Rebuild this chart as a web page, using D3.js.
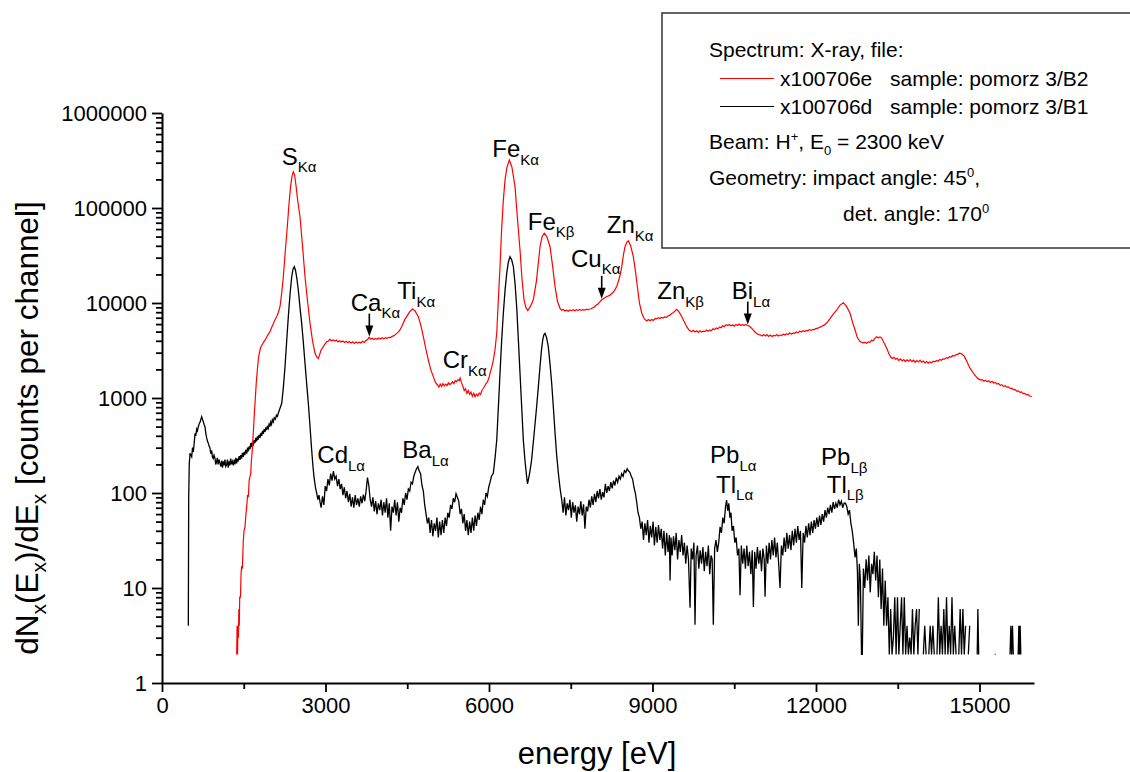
<!DOCTYPE html>
<html>
<head>
<meta charset="utf-8">
<script src="https://cdn.jsdelivr.net/npm/d3@7"></script>
<style>
  html, body { margin: 0; padding: 0; background: #fff; }
  svg { display: block; font-family: "Liberation Sans", Arial, sans-serif; }
</style>
</head>
<body>
<svg id="chart" width="1130" height="772"></svg>
<script>
// PIXE spectra: [energy (eV), counts per channel]; 0 = empty channel (not drawn on log axis)
const spectrumB2 = [
  [1370,2],[1378,4],[1386,2],[1394,4],[1402,3],[1410,6],[1418,4],[1426,8],[1440,8],[1450,14],[1462,17],[1475,16],
  [1490,30],[1505,40],[1523,44],[1540,60],[1555,72],[1570,95],[1584,91],[1600,137],[1615,150],[1628,160],[1640,220],
  [1652,262],[1664,333],[1680,480],[1695,700],[1707,880],[1728,1400],[1749,1970],[1772,2700],[1798,3200],[1820,3500],
  [1845,3700],[1868,3900],[1890,4070],[1915,4300],[1940,4600],[1962,4800],[1982,4990],[2010,5500],[2040,6000],
  [2070,6600],[2105,7180],[2135,8000],[2165,9140],[2195,12500],[2226,18900],[2262,35000],[2299,63500],[2330,110000],
  [2360,170000],[2385,215000],[2409,241000],[2432,225000],[2460,170000],[2490,120000],[2532,81000],[2578,40000],
  [2624,18900],[2670,10500],[2716,6110],[2762,4000],[2808,2950],[2840,2700],[2868,2600],[2895,2900],[2920,3200],
  [2960,3470],[2990,3700],[3020,3900],[3050,3950],[3080,4150],[3110,3980],[3140,4100],[3170,3950],[3200,4080],
  [3230,3900],[3260,4000],[3290,3880],[3320,3980],[3350,3850],[3380,3960],[3410,3820],[3440,3930],[3470,3800],
  [3500,3900],[3530,3760],[3560,3880],[3590,3780],[3620,3870],[3650,3800],[3680,3950],[3710,3850],[3740,4020],
  [3770,4100],[3800,4350],[3830,4150],[3860,4250],[3890,4120],[3920,4230],[3950,4150],[3980,4280],[4010,4180],
  [4040,4300],[4070,4200],[4100,4320],[4130,4250],[4160,4350],[4190,4330],[4220,4450],[4250,4500],[4290,4700],
  [4330,4900],[4367,5200],[4420,6000],[4460,6800],[4490,7180],[4540,8000],[4593,8650],[4640,8300],[4703,7180],
  [4750,5800],[4795,4420],[4840,3300],[4887,2510],[4930,2000],[4978,1680],[5005,1520],[5030,1420],[5055,1380],
  [5080,1300],[5105,1400],[5130,1320],[5155,1420],[5180,1340],[5205,1400],[5230,1350],[5255,1440],[5280,1380],
  [5305,1420],[5330,1480],[5355,1420],[5380,1520],[5405,1480],[5430,1560],[5455,1520],[5470,1620],[5495,1450],
  [5520,1330],[5545,1200],[5570,1250],[5595,1120],[5620,1200],[5645,1090],[5670,1150],[5695,1040],[5720,1120],
  [5745,1030],[5770,1100],[5795,1050],[5820,1130],[5845,1090],[5870,1200],[5895,1260],[5920,1330],[5945,1420],
  [5970,1480],[5995,1600],[6019,1820],[6049,2100],[6079,2510],[6110,3200],[6142,4830],[6172,11000],[6202,24100],
  [6232,60000],[6263,121000],[6295,200000],[6330,270000],[6373,320000],[6420,270000],[6450,210000],[6478,167000],
  [6520,80000],[6569,36100],[6605,18000],[6643,10800],[6675,9000],[6711,8300],[6760,9200],[6813,10800],[6870,17000],
  [6936,39100],[6975,50000],[7015,54100],[7060,50000],[7120,39100],[7165,25000],[7212,14900],[7255,10500],[7303,8790],
  [7335,8400],[7365,8550],[7395,8250],[7425,8400],[7455,8200],[7485,8450],[7515,8300],[7545,8500],[7575,8300],
  [7605,8500],[7635,8350],[7665,8550],[7695,8350],[7725,8500],[7755,8400],[7785,8600],[7815,8450],[7845,8650],
  [7875,8700],[7905,8900],[7935,9100],[7965,9450],[7995,9700],[8030,10200],[8068,10800],[8140,11500],[8221,12100],
  [8290,13200],[8344,14900],[8400,19000],[8436,24100],[8466,32000],[8496,39100],[8527,43500],[8557,45300],[8600,40000],
  [8648,30700],[8690,21000],[8722,14900],[8760,10000],[8803,7800],[8850,6800],[8894,6470],[8925,6700],[8955,6500],
  [8985,6700],[9015,6550],[9045,6850],[9075,6800],[9105,7000],[9135,6850],[9165,7050],[9195,6950],[9225,7150],
  [9255,7050],[9285,7300],[9315,7400],[9345,7700],[9380,7900],[9445,8590],[9490,8000],[9537,7180],[9580,6400],
  [9628,5630],[9670,5200],[9720,4990],[9750,5150],[9780,4950],[9810,5100],[9840,4900],[9870,5100],[9900,4950],
  [9930,5050],[9960,5000],[9990,5200],[10020,5050],[10050,5200],[10080,5100],[10110,5350],[10140,5250],[10170,5450],
  [10200,5350],[10230,5600],[10260,5500],[10290,5750],[10320,5650],[10350,5900],[10380,5800],[10410,5950],[10440,5750],
  [10470,5900],[10500,5700],[10530,5950],[10560,5800],[10590,6000],[10620,5800],[10650,5950],[10680,5800],[10710,5950],
  [10740,5800],[10770,5750],[10800,5550],[10830,5350],[10860,5100],[10890,4900],[10920,4750],[10950,4650],[10980,4600],
  [11010,4500],[11040,4650],[11070,4500],[11100,4650],[11130,4450],[11160,4600],[11190,4450],[11220,4550],[11250,4500],
  [11280,4650],[11310,4500],[11340,4600],[11370,4550],[11400,4700],[11430,4600],[11460,4750],[11490,4650],[11520,4850],
  [11550,4700],[11580,4850],[11610,4800],[11640,4950],[11670,4850],[11700,5050],[11730,4950],[11760,5100],[11790,5000],
  [11820,5150],[11850,5100],[11880,5250],[11910,5150],[11940,5250],[11970,5250],[12000,5400],[12030,5400],[12060,5550],
  [12090,5600],[12120,5750],[12150,5850],[12180,6050],[12210,6300],[12260,6900],[12320,7700],[12381,8440],[12440,9500],
  [12502,10070],[12560,9200],[12625,7800],[12670,6300],[12717,5200],[12760,4300],[12808,3920],[12860,3800],[12900,3850],
  [12931,3770],[12960,3900],[12990,3850],[13020,4050],[13050,4000],[13080,4250],[13115,4420],[13145,4300],[13175,4400],
  [13206,4250],[13250,3800],[13298,3340],[13340,2900],[13370,2700],[13400,2600],[13430,2680],[13460,2560],[13490,2620],
  [13520,2480],[13550,2580],[13580,2460],[13610,2540],[13640,2420],[13670,2520],[13700,2440],[13730,2540],[13760,2420],
  [13790,2500],[13820,2380],[13850,2480],[13880,2400],[13910,2500],[13940,2380],[13970,2450],[14000,2340],[14030,2420],
  [14060,2330],[14090,2400],[14120,2350],[14150,2440],[14180,2400],[14210,2480],[14240,2440],[14270,2540],[14300,2500],
  [14330,2580],[14360,2560],[14390,2660],[14420,2620],[14450,2720],[14480,2700],[14510,2800],[14540,2760],[14570,2860],
  [14600,2880],[14630,2960],[14660,2940],[14690,2850],[14720,2760],[14750,2550],[14780,2350],[14810,2150],[14840,2000],
  [14870,1900],[14900,1780],[14930,1700],[14960,1620],[14990,1580],[15020,1540],[15050,1560],[15080,1500],[15110,1540],
  [15140,1480],[15170,1520],[15200,1460],[15230,1500],[15260,1440],[15290,1460],[15320,1400],[15350,1420],[15380,1360],
  [15410,1380],[15440,1320],[15470,1350],[15500,1300],[15530,1310],[15560,1260],[15590,1270],[15620,1220],[15650,1230],
  [15680,1180],[15710,1190],[15740,1150],[15770,1160],[15800,1110],[15830,1120],[15860,1080],[15890,1090],[15920,1050],
  [15959,1040]
];

const spectrumB1 = [
  [483,4],[490,90],[500,200],[514,262],[530,250],[545,240],[560,300],[574,270],[590,330],[606,425],[620,400],[636,470],
  [650,450],[666,499],[685,540],[700,560],[715,600],[728,635],[745,590],[760,560],[775,520],[789,499],[805,420],[820,380],
  [835,350],[850,333],[865,310],[880,300],[895,260],[912,280],[925,240],[940,230],[955,250],[973,232],[985,200],[1000,210],
  [1015,235],[1030,200],[1045,225],[1064,205],[1080,190],[1095,220],[1110,185],[1125,215],[1140,195],[1155,225],[1170,190],
  [1187,199],[1200,225],[1215,185],[1230,215],[1245,195],[1260,230],[1275,200],[1290,215],[1308,195],[1325,225],[1340,200],
  [1355,235],[1370,205],[1385,230],[1400,215],[1415,245],[1431,223],[1445,250],[1460,230],[1475,265],[1490,240],[1505,270],
  [1520,250],[1535,285],[1554,260],[1570,300],[1585,275],[1600,310],[1615,290],[1630,335],[1645,305],[1660,345],[1675,315],
  [1690,360],[1705,335],[1720,380],[1735,350],[1750,395],[1765,365],[1780,410],[1798,380],[1815,430],[1830,400],[1845,450],
  [1860,420],[1875,470],[1890,440],[1905,490],[1921,460],[1935,510],[1950,480],[1965,530],[1980,500],[1995,560],[2010,530],
  [2025,590],[2042,560],[2060,620],[2080,600],[2100,660],[2118,640],[2134,690],[2165,780],[2197,880],[2227,1300],[2257,2130],
  [2288,4000],[2318,7180],[2350,12500],[2380,18900],[2405,22800],[2428,24100],[2450,22000],[2475,18000],[2501,13700],
  [2532,9000],[2563,6110],[2594,3800],[2624,2320],[2655,1400],[2685,880],[2716,500],[2747,280],[2770,190],[2789,148],
  [2815,115],[2839,99],[2860,85],[2880,95],[2900,80],
  [2920,70],[2945,92],[2970,75],[2995,118],[3020,105],[3045,140],[3070,120],[3095,160],[3120,135],[3145,170],[3170,140],
  [3195,150],[3220,118],[3245,140],[3270,110],[3295,125],[3320,95],[3345,115],[3370,88],[3395,105],[3420,80],[3445,98],
  [3470,72],[3495,90],[3520,70],[3545,95],[3570,75],[3595,88],[3620,72],[3645,92],[3670,78],[3695,96],[3720,82],[3745,105],
  [3770,145],[3795,120],[3820,85],[3845,72],[3870,90],[3895,64],[3920,82],[3945,60],[3970,78],[3995,66],[4020,85],[4045,58],
  [4070,80],[4095,62],[4120,88],[4145,55],[4170,78],[4195,40],[4220,72],[4245,62],[4270,85],[4295,58],[4320,80],[4345,50],
  [4370,70],[4395,62],[4420,88],[4445,75],[4470,100],[4495,85],[4520,110],[4545,105],[4570,130],[4595,125],[4620,150],
  [4645,165],[4670,180],[4695,190],[4720,170],[4745,160],[4770,120],[4795,105],[4820,75],[4845,60],[4870,48],[4895,55],
  [4920,38],[4945,52],[4970,35],[4995,48],[5020,40],[5045,55],[5070,34],[5095,50],[5120,36],[5145,52],[5170,38],[5195,55],
  [5220,45],[5245,62],[5270,55],[5295,75],[5320,68],[5345,88],[5370,80],[5395,98],[5420,90],[5445,82],[5470,60],[5495,68],
  [5520,48],[5545,60],[5570,40],[5595,52],[5620,36],[5645,50],[5670,38],[5695,55],[5720,40],[5745,58],[5770,45],[5795,62],
  [5820,52],[5845,72],[5870,60],[5895,85],[5920,75],[5945,100],[5970,92],[5995,115],[6020,130],[6045,150],[6079,161],
  [6110,230],[6142,361],[6172,800],[6202,1820],[6232,4000],[6263,7800],[6294,13500],[6325,20500],[6355,27000],[6386,30700],
  [6416,28500],[6447,24100],[6478,16000],[6508,9140],[6538,4200],[6569,1820],[6600,800],[6630,361],[6660,220],[6691,148],
  [6706,125],[6721,137],[6752,170],[6782,223],[6828,420],[6874,809],[6905,1300],[6936,2130],[6960,3100],[6985,4070],
  [7005,4600],[7028,4800],[7058,4300],[7088,3470],[7119,2300],[7150,1430],[7181,800],[7212,425],[7242,250],[7273,161],
  [7304,112],[7335,84],
  [7360,62],[7385,90],[7410,58],[7435,78],[7460,66],[7485,85],[7510,55],[7535,80],[7560,62],[7585,74],[7610,50],[7635,72],
  [7660,60],[7685,82],[7710,58],[7735,76],[7760,42],[7785,72],[7810,64],[7835,85],[7860,70],[7885,92],[7910,75],[7935,98],
  [7960,80],[7985,105],[8010,88],[8035,110],[8060,85],[8085,102],[8110,90],[8135,125],[8160,100],[8185,118],[8210,105],
  [8235,130],[8260,112],[8285,135],[8310,120],[8335,145],[8360,130],[8385,150],[8410,140],[8435,160],[8460,150],[8485,172],
  [8510,165],[8535,180],[8560,170],[8585,165],[8610,150],[8635,140],[8660,115],[8685,100],[8710,80],[8735,62],[8760,55],
  [8785,42],[8810,50],[8835,32],[8860,48],[8885,36],[8910,52],[8935,30],[8960,45],[8985,34],[9010,50],[9035,28],[9060,44],
  [9085,30],[9110,46],[9135,32],[9160,42],[9185,26],[9210,40],[9235,22],[9260,38],[9285,24],[9310,36],[9322,12],[9340,34],
  [9360,22],[9385,35],[9410,25],[9435,38],[9460,20],[9485,32],[9510,24],[9535,36],[9560,22],[9585,30],[9610,18],[9635,28],
  [9660,20],[9689,6.2],[9710,26],[9735,20],[9760,30],[9780,4.1],[9800,22],[9825,28],[9850,16],[9875,25],[9900,18],[9925,27],
  [9950,15],[9975,24],[10000,17],[10025,28],[10050,14],[10075,22],[10095,20],[10116,4.1],[10140,26],[10165,32],[10190,24],
  [10215,30],[10240,44],[10265,38],[10290,55],[10315,48],[10340,72],[10360,84],[10380,65],[10400,78],[10420,55],[10440,62],
  [10460,40],[10485,45],[10510,30],[10535,34],[10560,22],[10585,26],[10606,8.4],[10630,28],[10655,18],[10680,26],[10705,16],
  [10730,28],[10755,17],[10780,24],[10805,14],[10830,25],[10851,6.3],[10875,24],[10900,16],[10925,27],[10950,18],[10975,25],
  [11000,15],[11025,26],[11050,20],[11065,8.1],[11090,28],[11115,18],[11140,30],[11165,20],[11190,32],[11215,22],[11240,34],
  [11265,21],[11290,30],[11315,18],[11340,10],[11365,28],[11390,22],[11415,34],[11440,24],[11465,38],[11490,26],[11515,36],
  [11540,25],[11565,40],[11590,28],[11615,42],[11640,30],[11665,45],[11690,32],[11715,40],[11739,10],[11765,38],[11790,30],
  [11815,45],[11840,34],[11865,48],[11890,36],[11915,50],[11940,38],[11965,52],[11990,42],[12015,55],[12040,44],[12065,58],
  [12090,46],[12115,60],[12140,50],[12165,66],[12190,55],[12215,70],[12240,60],[12265,75],[12290,62],[12315,80],[12340,68],
  [12365,78],[12390,70],[12415,85],[12440,75],[12465,82],[12490,70],[12515,78],[12540,78],[12565,72],[12590,60],[12615,66],
  [12640,48],[12665,40],[12690,30],[12717,21],[12740,26],[12760,15],[12777,4],[12795,18],[12815,12],[12835,2],[12850,2],
  [12870,16],[12895,10],[12920,20],[12945,12],[12970,22],[12995,9],[13020,18],[13045,14],[13070,24],[13095,12],[13120,22],
  [13145,8],[13170,20],[13195,6],[13220,16],[13245,4],[13270,12],[13295,4],[13320,8],[13345,2],[13370,6],[13395,2],
  [13420,3],[13445,8],[13470,2],[13495,8],[13520,2],[13545,4],[13570,8],[13595,2],[13620,8],[13645,2],[13670,4],[13695,2],
  [13720,3],[13745,2],[13770,6],[13795,2],[13820,4],[13845,6],[13870,2],[13895,6],[13920,0],[13945,0],[13970,2],[13995,4],
  [14020,2],[14045,0],[14070,2],[14095,4],[14120,2],[14145,4],[14170,2],[14195,0],[14220,2],[14245,8],[14270,2],[14295,4],
  [14320,2],[14345,6],[14370,2],[14395,8],[14420,2],[14445,4],[14470,2],[14495,8],[14520,2],[14545,4],[14570,2],[14595,0],
  [14620,2],[14645,6],[14670,2],[14695,6],[14720,2],[14745,4],[14770,0],[14795,2],[14820,4],[14845,0],[14945,0],[14958,2],
  [14970,6],[14985,2],[15000,0],[15270,0],[15280,2],[15295,2],[15310,0],[15545,0],[15560,2],[15575,4],[15590,2],[15605,4],
  [15620,2],[15635,0],[15695,0],[15710,2],[15722,4],[15734,2],[15746,4],[15758,2],[15770,0]
];

const xTickValues = [0, 3000, 6000, 9000, 12000, 15000];
const xMinorTickValues = [1500, 4500, 7500, 10500, 13500];
const yTickValues = [1, 10, 100, 1000, 10000, 100000, 1000000];

// peak identifications: element, line, label anchor (energy, counts)
const peakLabels = [
  { el: "S",  line: "Kα", e: 2197,  c: 2.84e5 },
  { el: "Fe", line: "Kα", e: 6061,  c: 3.42e5 },
  { el: "Ca", line: "Kα", e: 3463,  c: 8300 },
  { el: "Ti", line: "Kα", e: 4318,  c: 10900 },
  { el: "Cr", line: "Kα", e: 5151,  c: 2050 },
  { el: "Fe", line: "Kβ", e: 6711,  c: 58700 },
  { el: "Cu", line: "Kα", e: 7505,  c: 24100 },
  { el: "Zn", line: "Kα", e: 8160,  c: 54200 },
  { el: "Zn", line: "Kβ", e: 9089,  c: 11000 },
  { el: "Bi", line: "Lα", e: 10454, c: 11000 },
  { el: "Cd", line: "Lα", e: 2850,  c: 205 },
  { el: "Ba", line: "Lα", e: 4410,  c: 232 },
  { el: "Pb", line: "Lα", e: 10056, c: 205 },
  { el: "Tl", line: "Lα", e: 10166, c: 101 },
  { el: "Pb", line: "Lβ", e: 12093, c: 197 },
  { el: "Tl", line: "Lβ", e: 12197, c: 101 }
];
// weak lines marked with an arrow on the B2 spectrum (Ca Kα, Cu Kα, Bi Lα)
const arrowEnergies = [3804, 8068, 10748];

const legendSeries = [
  { file: "x100706e", sample: "sample: pomorz 3/B2", color: "#ff0000" },
  { file: "x100706d", sample: "sample: pomorz 3/B1", color: "#000000" }
];

const svg = d3.select("#chart");
const x = d3.scaleLinear().domain([0, 16000]).range([162, 1034]);
const y = d3.scaleLog().domain([1, 1e6]).range([683, 113]);

// text with sub/superscript runs: parts = [[string, kind]] kind 0 normal, 1 sub, 2 sup
function rich(sel, parts, size, small, drop, rise) {
  let shift = 0;
  parts.forEach(([s, k]) => {
    const target = k === 1 ? drop : k === 2 ? -rise : 0;
    sel.append("tspan")
      .attr("dy", target - shift)
      .attr("font-size", k ? small : size)
      .text(s);
    shift = target;
  });
  return sel;
}

// spectra
const line = d3.line()
  .defined(d => d[1] > 0)
  .x(d => x(d[0]))
  .y(d => y(d[1]));

svg.append("path").datum(spectrumB1)
  .attr("fill", "none").attr("stroke", "#000").attr("stroke-width", 1.3)
  .attr("d", line);
svg.append("path").datum(spectrumB2)
  .attr("fill", "none").attr("stroke", "#ff0000").attr("stroke-width", 1.2)
  .attr("d", line);

// axes
const fmt = d3.format("d");
const gx = svg.append("g").attr("transform", "translate(0,683)")
  .call(d3.axisBottom(x).tickValues(xTickValues).tickFormat(fmt).tickSize(9).tickSizeOuter(0).tickPadding(5));
const gxm = svg.append("g").attr("transform", "translate(0,683)")
  .call(d3.axisBottom(x).tickValues(xMinorTickValues).tickFormat("").tickSize(6).tickSizeOuter(0));
const gy = svg.append("g").attr("transform", "translate(162,0)")
  .call(d3.axisLeft(y).tickValues(yTickValues).tickFormat(fmt).tickSize(10).tickSizeOuter(0).tickPadding(5));
const yMinor = y.ticks().filter(v => Math.abs(Math.log10(v) - Math.round(Math.log10(v))) > 1e-6);
const gym = svg.append("g").attr("transform", "translate(162,0)")
  .call(d3.axisLeft(y).tickValues(yMinor).tickFormat("").tickSize(6).tickSizeOuter(0));

[gx, gxm, gy, gym].forEach(g => {
  g.selectAll("path.domain").attr("stroke", "#000").attr("stroke-width", 2);
  g.selectAll(".tick line").attr("stroke", "#000").attr("stroke-width", 1.8);
  g.selectAll(".tick text").attr("font-family", "Liberation Sans, Arial, sans-serif")
    .attr("font-size", 22).attr("fill", "#000");
});
gxm.select("path.domain").remove();
gym.select("path.domain").remove();

// axis titles
svg.append("text").attr("x", 597).attr("y", 764).attr("text-anchor", "middle")
  .attr("font-size", 31).text("energy [eV]");
rich(svg.append("text").attr("text-anchor", "middle")
  .attr("transform", "translate(38,428) rotate(-90)"),
  [["dN", 0], ["x", 1], ["(E", 0], ["x", 1], [")/dE", 0], ["x", 1], [" [counts per channel]", 0]],
  31.5, 21, 8, 0);

// peak labels
peakLabels.forEach(p => {
  rich(svg.append("text").attr("x", x(p.e)).attr("y", y(p.c)).attr("fill", "#000"),
    [[p.el, 0], [p.line, 1]], 24, 15, 7.5, 0);
});

// arrows pointing at the B2 curve
const bis = d3.bisector(d => d[0]).left;
function valueB2(e) {
  const i = Math.max(1, Math.min(spectrumB2.length - 1, bis(spectrumB2, e)));
  const a = spectrumB2[i - 1], b = spectrumB2[i];
  const t = (e - a[0]) / (b[0] - a[0]);
  return Math.pow(10, Math.log10(a[1]) + t * (Math.log10(b[1]) - Math.log10(a[1])));
}
arrowEnergies.forEach(e => {
  const ax = x(e), tip = y(valueB2(e)) - 1;
  svg.append("line").attr("x1", ax).attr("x2", ax).attr("y1", tip - 23).attr("y2", tip - 9)
    .attr("stroke", "#000").attr("stroke-width", 1.6);
  svg.append("path")
    .attr("d", `M${ax},${tip} L${ax - 4},${tip - 11} L${ax + 4},${tip - 11} Z`)
    .attr("fill", "#000");
});

// legend box
const lg = svg.append("g");
lg.append("rect").attr("x", 662).attr("y", 13).attr("width", 480).attr("height", 235)
  .attr("fill", "#fff").attr("stroke", "#333").attr("stroke-width", 1.5);
lg.append("text").attr("x", 709).attr("y", 57).attr("font-size", 21).text("Spectrum: X-ray, file:");
legendSeries.forEach((s, i) => {
  const ly = 78.5 + i * 28;
  lg.append("line").attr("x1", 720).attr("x2", 774).attr("y1", ly).attr("y2", ly)
    .attr("stroke", s.color).attr("stroke-width", 1.2);
  lg.append("text").attr("x", 780).attr("y", ly + 7.5).attr("font-size", 21).text(s.file);
  lg.append("text").attr("x", 890).attr("y", ly + 7.5).attr("font-size", 21).text(s.sample);
});
rich(lg.append("text").attr("x", 709).attr("y", 149),
  [["Beam: H", 0], ["+", 2], [", E", 0], ["0", 1], [" = 2300 keV", 0]], 21, 13, 6, 8);
rich(lg.append("text").attr("x", 709).attr("y", 185),
  [["Geometry: impact angle: 45", 0], ["0", 2], [",", 0]], 21, 13, 6, 8);
rich(lg.append("text").attr("x", 843).attr("y", 221),
  [["det. angle: 170", 0], ["0", 2]], 21, 13, 6, 8);
</script>
</body>
</html>
